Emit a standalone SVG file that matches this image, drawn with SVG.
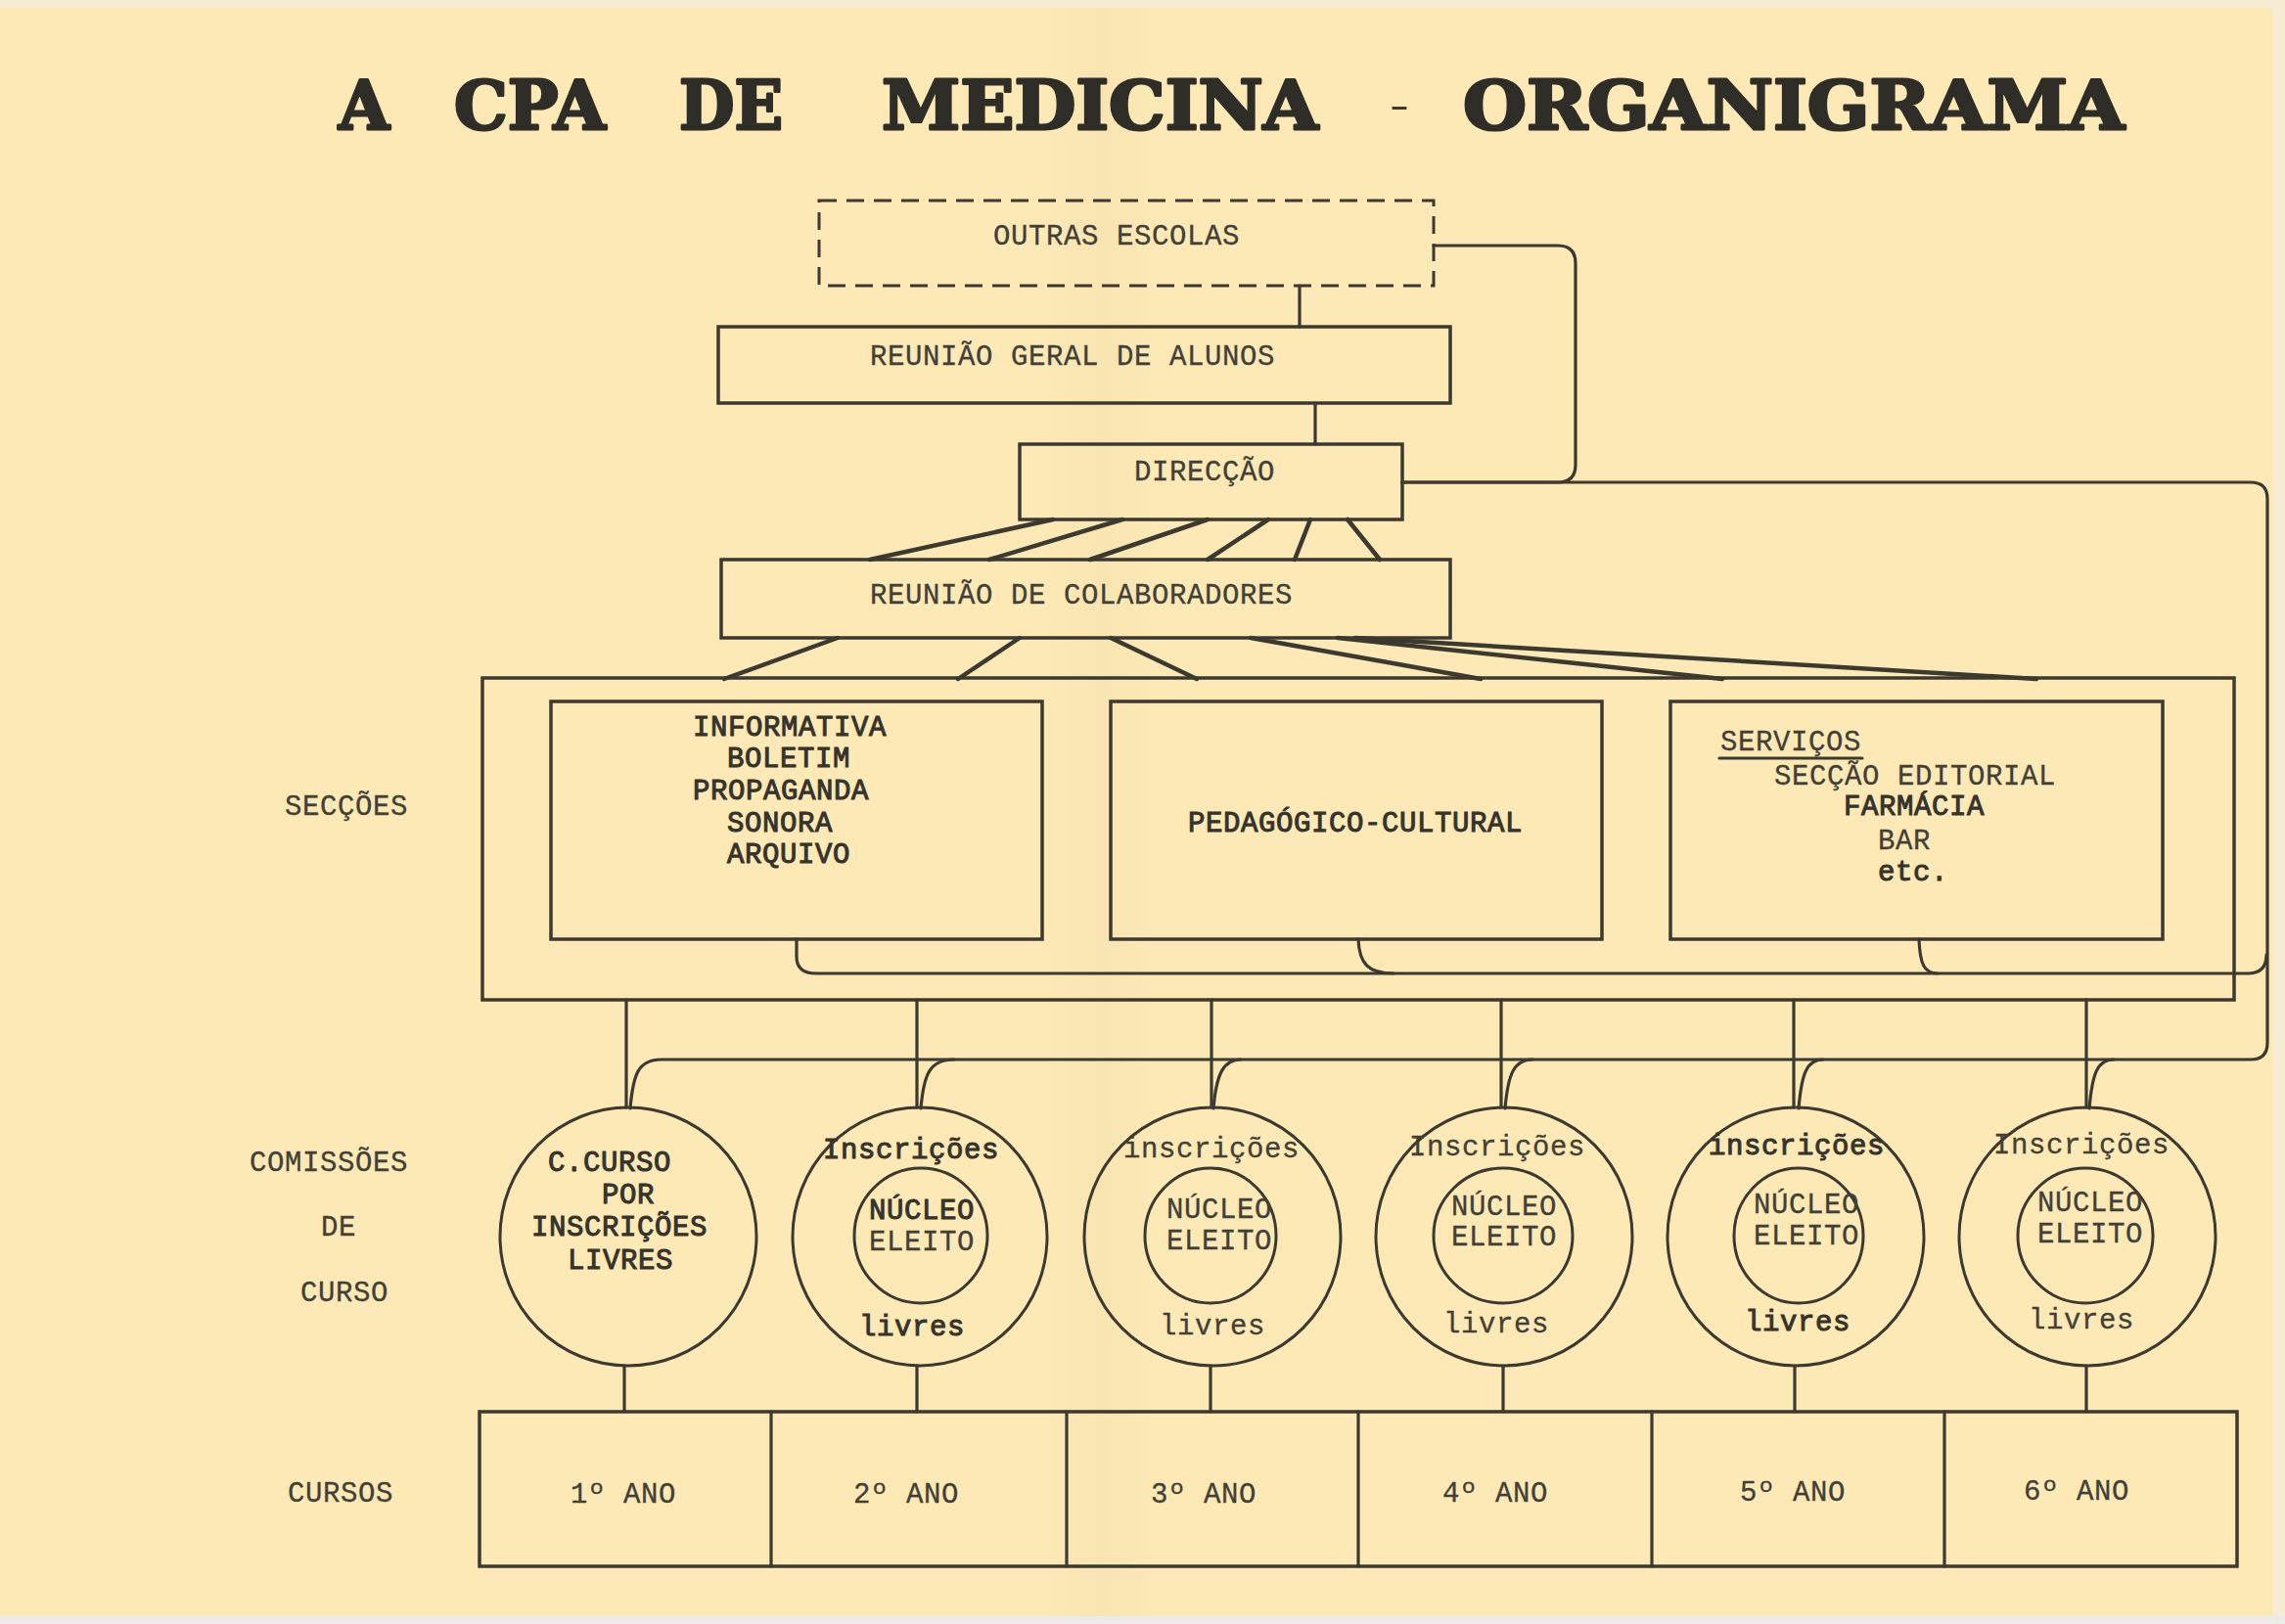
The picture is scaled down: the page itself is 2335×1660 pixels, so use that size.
<svg xmlns="http://www.w3.org/2000/svg" width="2335" height="1660" viewBox="0 0 2335 1660">
<defs>
<linearGradient id="fold" x1="0" y1="0" x2="1" y2="0">
<stop offset="0" stop-color="#e9d29c" stop-opacity="0"/>
<stop offset="0.5" stop-color="#e9d29c" stop-opacity="0.2"/>
<stop offset="1" stop-color="#e9d29c" stop-opacity="0"/>
</linearGradient>
<style>
.ln{fill:none;stroke:#3b3930;stroke-width:3.2;stroke-linecap:round;stroke-linejoin:round}
.thk{fill:none;stroke:#3b3930;stroke-width:4.5;stroke-linecap:round}
.box{fill:none;stroke:#3b3930;stroke-width:3.5}
.ell{fill:none;stroke:#3b3930;stroke-width:3}
.t{font-family:"Liberation Mono","Courier New",monospace;font-size:29px;fill:#423f36;stroke:#423f36;stroke-width:0.3;letter-spacing:0.6px}
.b{stroke-width:1;fill:#35332c;stroke:#35332c}
.c{text-anchor:middle}
.ti{font-family:"DejaVu Serif","Liberation Serif",serif;font-weight:bold;font-size:70px;fill:#2e2d27;stroke:#2e2d27;stroke-width:3;stroke-linejoin:round}
</style>
</defs>
<rect x="0" y="0" width="2335" height="1660" fill="#fce9b6"/>
<rect x="1070" y="0" width="110" height="1652" fill="url(#fold)"/>
<rect x="0" y="0" width="2335" height="8" fill="#f6ecd3"/>
<rect x="2322" y="0" width="13" height="1660" fill="#f6ecd3"/>
<rect x="0" y="1652" width="2335" height="8" fill="#ecebe7"/>

<g id="title">
<text class="ti" x="346" y="132" textLength="52" lengthAdjust="spacingAndGlyphs">A</text>
<text class="ti" x="464" y="132" textLength="155" lengthAdjust="spacingAndGlyphs">CPA</text>
<text class="ti" x="694" y="132" textLength="106" lengthAdjust="spacingAndGlyphs">DE</text>
<text class="ti" x="901" y="132" textLength="446" lengthAdjust="spacingAndGlyphs">MEDICINA</text>
<text x="1420" y="121" font-family="DejaVu Serif" font-size="40" fill="#3b3930" textLength="20" lengthAdjust="spacingAndGlyphs">-</text>
<text class="ti" x="1495" y="132" textLength="676" lengthAdjust="spacingAndGlyphs">ORGANIGRAMA</text>
</g>

<g id="connectors">
<line class="ln" x1="1328" y1="292" x2="1328" y2="334"/>
<line class="ln" x1="1344" y1="412" x2="1344" y2="454"/>
<path class="ln" d="M1465,251 H1592 Q1610,251 1610,269 V475 Q1610,493 1592,493 H1433"/>
<path class="ln" d="M1433,493 H2300 Q2317,493 2317,510 V1066 Q2317,1083 2300,1083 H676 C652,1083 647,1098 644,1133"/>
<line class="thk" x1="1076" y1="531" x2="889" y2="572"/>
<line class="thk" x1="1147" y1="531" x2="1011" y2="572"/>
<line class="thk" x1="1234" y1="531" x2="1114" y2="572"/>
<line class="thk" x1="1296" y1="531" x2="1234" y2="572"/>
<line class="thk" x1="1339" y1="531" x2="1323" y2="572"/>
<line class="thk" x1="1377" y1="531" x2="1410" y2="572"/>
<line class="thk" x1="856" y1="652" x2="740" y2="694"/>
<line class="thk" x1="1042" y1="652" x2="979" y2="694"/>
<line class="thk" x1="1135" y1="652" x2="1223" y2="694"/>
<line class="thk" x1="1278" y1="652" x2="1513" y2="694"/>
<line class="thk" x1="1367" y1="652" x2="1760" y2="694"/>
<line class="thk" x1="1385" y1="652" x2="2081" y2="694"/>
<path class="ln" d="M814,960 V978 Q814,995 834,995 H2297 Q2316,995 2316,976"/>
<path class="ln" d="M1388,960 C1389,985 1398,995 1424,995"/>
<path class="ln" d="M1961,960 C1962,985 1966,995 1980,995"/>
<line class="ln" x1="640" y1="1022" x2="640" y2="1132"/>
<line class="ln" x1="937" y1="1022" x2="937" y2="1132"/>
<line class="ln" x1="1238" y1="1022" x2="1238" y2="1132"/>
<line class="ln" x1="1534" y1="1022" x2="1534" y2="1132"/>
<line class="ln" x1="1833" y1="1022" x2="1833" y2="1132"/>
<line class="ln" x1="2132" y1="1022" x2="2132" y2="1132"/>
<path class="ln" d="M941,1133 C944,1098 950,1083 975,1083"/>
<path class="ln" d="M1240,1133 C1243,1098 1250,1083 1268,1083"/>
<path class="ln" d="M1538,1133 C1541,1098 1547,1083 1566,1083"/>
<path class="ln" d="M1838,1133 C1841,1098 1846,1083 1863,1083"/>
<path class="ln" d="M2135,1133 C2138,1098 2143,1083 2160,1083"/>
<line class="ln" x1="638" y1="1396" x2="638" y2="1443"/>
<line class="ln" x1="937" y1="1396" x2="937" y2="1443"/>
<line class="ln" x1="1237" y1="1396" x2="1237" y2="1443"/>
<line class="ln" x1="1536" y1="1396" x2="1536" y2="1443"/>
<line class="ln" x1="1834" y1="1396" x2="1834" y2="1443"/>
<line class="ln" x1="2132" y1="1396" x2="2132" y2="1443"/>
</g>

<g id="outras-escolas">
<rect x="837" y="205" width="628" height="87" fill="none" stroke="#3b3930" stroke-width="3" stroke-dasharray="18 10"/>
<text class="t c" x="1141" y="250">OUTRAS ESCOLAS</text>
</g>
<g id="reuniao-geral">
<rect class="box" x="734" y="334" width="748" height="78"/>
<text class="t c" x="1096" y="373">REUNIÃO GERAL DE ALUNOS</text>
</g>
<g id="direccao">
<rect class="box" x="1042" y="454" width="391" height="77"/>
<text class="t c" x="1231" y="491">DIRECÇÃO</text>
</g>
<g id="reuniao-colaboradores">
<rect class="box" x="737" y="572" width="745" height="80"/>
<text class="t c" x="1105" y="617">REUNIÃO DE COLABORADORES</text>
</g>

<g id="label-seccoes"><text class="t c" x="354" y="833">SECÇÕES</text></g>
<g id="label-comissoes">
<text class="t c" x="336" y="1197">COMISSÕES</text>
<text class="t c" x="346" y="1263">DE</text>
<text class="t c" x="352" y="1330">CURSO</text>
</g>
<g id="label-cursos"><text class="t c" x="348" y="1535">CURSOS</text></g>

<g id="seccoes">
<rect class="box" x="493" y="693" width="1790" height="329"/>
</g>
<g id="informativa">
<rect class="box" x="563" y="717" width="502" height="243"/>
<text class="t b" x="708" y="752">INFORMATIVA</text>
<text class="t b" x="743" y="784">BOLETIM</text>
<text class="t b" x="708" y="817">PROPAGANDA</text>
<text class="t b" x="743" y="850">SONORA</text>
<text class="t b" x="743" y="882">ARQUIVO</text>
</g>
<g id="pedagogico">
<rect class="box" x="1135" y="717" width="502" height="243"/>
<text class="t b c" x="1385" y="850">PEDAGÓGICO-CULTURAL</text>
</g>
<g id="servicos">
<rect class="box" x="1707" y="717" width="503" height="243"/>
<text class="t" x="1758" y="767">SERVIÇOS</text>
<line class="ln" x1="1757" y1="775" x2="1903" y2="775"/>
<text class="t" x="1813" y="802">SECÇÃO EDITORIAL</text>
<text class="t b" x="1884" y="833">FARMÁCIA</text>
<text class="t" x="1919" y="868">BAR</text>
<text class="t b" x="1919" y="900">etc.</text>
</g>

<g id="comissao-1">
<ellipse class="ell" cx="642" cy="1264" rx="131" ry="132"/>
<text class="t b c" x="623" y="1197">C.CURSO</text>
<text class="t b c" x="642" y="1230">POR</text>
<text class="t b c" x="633" y="1263">INSCRIÇÕES</text>
<text class="t b c" x="634" y="1297">LIVRES</text>
</g>
<g id="comissao-2">
<ellipse class="ell" cx="940" cy="1264" rx="130" ry="132"/>
<ellipse class="ell" cx="941" cy="1263" rx="68" ry="69"/>
<text class="t b c" x="931" y="1184">Inscrições</text>
<text class="t b c" x="942" y="1246">NÚCLEO</text>
<text class="t c" x="942" y="1278">ELEITO</text>
<text class="t b c" x="932" y="1365">livres</text>
</g>
<g id="comissao-3">
<ellipse class="ell" cx="1239" cy="1264" rx="131" ry="132"/>
<ellipse class="ell" cx="1237" cy="1263" rx="67" ry="69"/>
<text class="t c" x="1238" y="1183">inscrições</text>
<text class="t c" x="1246" y="1245">NÚCLEO</text>
<text class="t c" x="1246" y="1277">ELEITO</text>
<text class="t c" x="1239" y="1364">livres</text>
</g>
<g id="comissao-4">
<ellipse class="ell" cx="1537" cy="1264" rx="131" ry="132"/>
<ellipse class="ell" cx="1536" cy="1263" rx="71" ry="69"/>
<text class="t c" x="1530" y="1181">Inscrições</text>
<text class="t c" x="1537" y="1242">NÚCLEO</text>
<text class="t c" x="1537" y="1273">ELEITO</text>
<text class="t c" x="1529" y="1362">livres</text>
</g>
<g id="comissao-5">
<ellipse class="ell" cx="1835" cy="1264" rx="131" ry="132"/>
<ellipse class="ell" cx="1838" cy="1263" rx="66" ry="69"/>
<text class="t b c" x="1836" y="1180">inscrições</text>
<text class="t c" x="1846" y="1240">NÚCLEO</text>
<text class="t c" x="1846" y="1272">ELEITO</text>
<text class="t b c" x="1837" y="1360">livres</text>
</g>
<g id="comissao-6">
<ellipse class="ell" cx="2133" cy="1264" rx="131" ry="132"/>
<ellipse class="ell" cx="2131" cy="1263" rx="69" ry="69"/>
<text class="t c" x="2127" y="1179">Inscrições</text>
<text class="t c" x="2136" y="1238">NÚCLEO</text>
<text class="t c" x="2136" y="1270">ELEITO</text>
<text class="t c" x="2127" y="1358">livres</text>
</g>

<g id="cursos">
<rect class="box" x="490" y="1443" width="1796" height="158"/>
<line class="ln" x1="788" y1="1443" x2="788" y2="1601"/>
<line class="ln" x1="1090" y1="1443" x2="1090" y2="1601"/>
<line class="ln" x1="1388" y1="1443" x2="1388" y2="1601"/>
<line class="ln" x1="1688" y1="1443" x2="1688" y2="1601"/>
<line class="ln" x1="1987" y1="1443" x2="1987" y2="1601"/>
<text class="t c" x="637" y="1536">1º ANO</text>
<text class="t c" x="926" y="1536">2º ANO</text>
<text class="t c" x="1230" y="1536">3º ANO</text>
<text class="t c" x="1528" y="1535">4º ANO</text>
<text class="t c" x="1832" y="1534">5º ANO</text>
<text class="t c" x="2122" y="1533">6º ANO</text>
</g>
</svg>
